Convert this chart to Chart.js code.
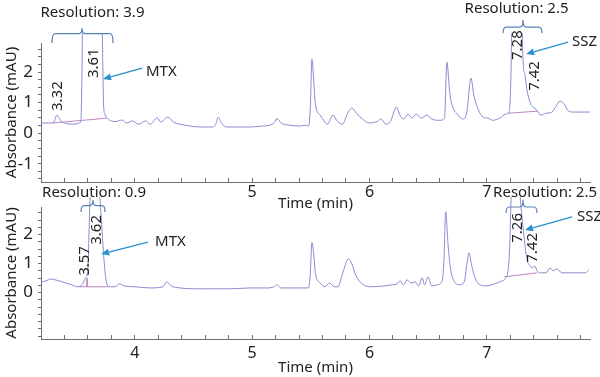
<!DOCTYPE html>
<html><head><meta charset="utf-8">
<script src="https://cdn.jsdelivr.net/npm/chart.js@4.4.0/dist/chart.umd.min.js"></script>
<style>
html,body{margin:0;padding:0;background:#fff;width:600px;height:377px;overflow:hidden;position:relative}
#c1{position:absolute;left:0;top:0}
#c2{position:absolute;left:0;top:185px}
</style></head><body>
<canvas id="c1" width="600" height="213"></canvas>
<canvas id="c2" width="600" height="192"></canvas>
<script>
// ---------- data (time in min, absorbance in mAU) ----------
const topTime = [3.20,3.26,3.31,3.335,3.37,3.41,3.48,3.52,3.54,3.548,3.555,3.61,3.72,3.727,3.733,3.745,3.77,3.80,3.84,3.89,3.93,3.98,4.03,4.09,4.13,4.19,4.22,4.28,4.33,4.43,4.56,4.66,4.69,4.71,4.74,4.78,4.98,5.08,5.15,5.19,5.21,5.25,5.32,5.41,5.45,5.48,5.495,5.51,5.525,5.54,5.58,5.62,5.64,5.69,5.72,5.77,5.81,5.85,5.89,5.94,6.00,6.05,6.07,6.10,6.14,6.18,6.23,6.26,6.29,6.33,6.36,6.40,6.44,6.49,6.53,6.60,6.64,6.66,6.685,6.71,6.75,6.77,6.80,6.83,6.865,6.89,6.93,6.97,7.01,7.05,7.11,7.16,7.19,7.205,7.215,7.28,7.30,7.309,7.326,7.343,7.369,7.394,7.41,7.437,7.46,7.505,7.556,7.59,7.625,7.66,7.69,7.74,7.86,7.88];
const topAbs = [0.33,0.33,0.36,0.59,0.39,0.32,0.29,0.32,0.40,1.6,3.6,4.5,3.6,2.2,0.95,0.62,0.47,0.40,0.38,0.43,0.33,0.40,0.29,0.40,0.29,0.50,0.36,0.53,0.36,0.26,0.20,0.20,0.29,0.52,0.32,0.20,0.20,0.23,0.26,0.35,0.48,0.32,0.26,0.23,0.26,0.23,0.75,2.42,1.7,0.92,0.59,0.36,0.29,0.59,0.42,0.29,0.62,0.82,0.65,0.46,0.33,0.36,0.39,0.46,0.29,0.39,0.85,0.59,0.46,0.62,0.49,0.62,0.49,0.59,0.46,0.42,0.49,2.32,1.3,0.85,0.62,0.52,0.46,0.69,1.80,1.24,0.75,0.52,0.49,0.42,0.49,0.62,0.69,1.7,3.7,4.8,3.7,2.39,1.9,1.41,1.01,0.85,0.82,0.69,0.59,0.65,0.69,0.88,1.05,0.95,0.75,0.69,0.69,0.69];

const bottomTime = [3.20,3.24,3.285,3.32,3.36,3.41,3.46,3.515,3.55,3.58,3.60,3.61,3.62,3.66,3.703,3.72,3.737,3.754,3.78,3.83,3.87,3.91,4.00,4.13,4.24,4.27,4.31,4.385,4.56,4.81,4.98,5.135,5.185,5.21,5.245,5.41,5.48,5.495,5.51,5.525,5.54,5.58,5.62,5.66,5.70,5.73,5.775,5.82,5.85,5.885,5.94,6.00,6.13,6.20,6.235,6.26,6.29,6.32,6.355,6.39,6.42,6.45,6.47,6.50,6.53,6.58,6.62,6.635,6.65,6.67,6.69,6.72,6.77,6.81,6.83,6.85,6.87,6.90,6.94,6.99,7.045,7.11,7.155,7.18,7.198,7.207,7.26,7.29,7.316,7.34,7.369,7.394,7.41,7.428,7.45,7.505,7.54,7.565,7.60,7.64,7.75,7.84,7.87];
const bottomAbs = [0.37,0.40,0.47,0.44,0.40,0.33,0.27,0.20,0.27,0.51,0.78,2.17,3.4,4.5,3.2,2.16,1.13,0.44,0.20,0.20,0.30,0.23,0.20,0.16,0.20,0.37,0.23,0.16,0.13,0.13,0.16,0.16,0.20,0.27,0.16,0.16,0.16,0.61,1.72,1.30,0.65,0.33,0.20,0.33,0.20,0.20,0.71,1.16,0.99,0.58,0.30,0.20,0.23,0.27,0.30,0.40,0.27,0.44,0.33,0.37,0.23,0.51,0.27,0.54,0.23,0.27,0.40,1.13,2.79,1.65,0.85,0.40,0.27,0.40,0.96,1.37,0.96,0.51,0.27,0.23,0.27,0.37,0.47,0.71,1.82,3.2,4.5,3.03,2.0,1.20,0.92,0.85,0.92,0.75,0.68,0.68,0.85,0.75,0.82,0.68,0.68,0.68,0.78];

// integration baselines (start / end points)
const topBaseMtxT = [3.294, 3.763], topBaseMtxV = [0.33, 0.49];
const topBaseSszT = [7.18, 7.43],   topBaseSszV = [0.65, 0.72];
const botBaseMtxT = [3.533, 3.77],  botBaseMtxV = [0.20, 0.20];
const botDropT    = [3.592, 3.592], botDropV    = [0.50, 0.20];
const botBaseSszT = [7.147, 7.428], botBaseSszV = [0.54, 0.68];

// axis ticks
const topXLabels = [5, 6, 7];
const bottomXLabels = [4, 5, 6, 7];
const topYLabels = [-1, 0, 1, 2];
const bottomYLabels = [0, 1, 2];

// annotation texts
const topPeakNames = ['3.32', '3.61', '7.28', '7.42'];
const bottomPeakNames = ['3.57', '3.62', '7.26', '7.42'];
const topResolution = ['Resolution: 3.9', 'Resolution: 2.5'];
const bottomResolution = ['Resolution: 0.9', 'Resolution: 2.5'];
const compounds = ['MTX', 'SSZ'];

// ---------- style ----------
const FONT = "'Noto Sans', 'DejaVu Sans', sans-serif";
const textColor = '#222222';
const axisColor = '#707070';
const traceColor = '#8a8ad0';
const baseColor = '#bf86c4';
const bracketColor = '#5a80b8';
const arrowColor = '#2a8fcb';
Chart.defaults.font.family = FONT;

// annotation anchors in data coordinates (time, absorbance)
const topAnnot = {
  brackets: [
    {from: 3.294, to: 3.814, mid: 3.55, line: 3.26, end: 2.95, notch: 3.44, text: topResolution[0], tx: 3.639, ty: 3.93},
    {from: 7.139, to: 7.471, mid: 7.309, line: 3.47, end: 3.27, notch: 3.70, text: topResolution[1], tx: 7.254, ty: 4.06}
  ],
  peaks: [
    {text: topPeakNames[0], t: 3.345, v: 1.21},
    {text: topPeakNames[1], t: 3.652, v: 2.29},
    {text: topPeakNames[2], t: 7.267, v: 2.88},
    {text: topPeakNames[3], t: 7.411, v: 1.87}
  ],
  arrows: [
    {t0: 4.061, v0: 2.13, t1: 3.729, v1: 1.77, text: compounds[0], tx: 4.095, ty: 2.0},
    {t0: 7.693, v0: 2.98, t1: 7.335, v1: 2.59, text: compounds[1], tx: 7.727, ty: 2.98}
  ]
};
const bottomAnnot = {
  brackets: [
    {from: 3.541, to: 3.746, mid: 3.643, line: 3.0, end: 2.78, notch: 3.19, text: bottomResolution[0], tx: 3.652, ty: 3.43},
    {from: 7.164, to: 7.428, mid: 7.309, line: 2.95, end: 2.74, notch: 3.19, text: bottomResolution[1], tx: 7.497, ty: 3.43}
  ],
  peaks: [
    {text: bottomPeakNames[0], t: 3.575, v: 1.09},
    {text: bottomPeakNames[1], t: 3.677, v: 2.16},
    {text: bottomPeakNames[2], t: 7.267, v: 2.23},
    {text: bottomPeakNames[3], t: 7.394, v: 1.54}
  ],
  arrows: [
    {t0: 4.112, v0: 1.74, t1: 3.712, v1: 1.33, text: compounds[0], tx: 4.172, ty: 1.74},
    {t0: 7.727, v0: 2.61, t1: 7.326, v1: 2.16, text: compounds[1], tx: 7.769, ty: 2.61}
  ]
};

// ---------- annotation plugin ----------
const annotPlugin = {
  id: 'annot',
  afterDatasetsDraw(chart, args, opts) {
    const {ctx} = chart;
    const xs = chart.scales.x, ys = chart.scales.y;
    const X = t => xs.getPixelForValue(t), Y = v => ys.getPixelForValue(v);
    ctx.save();
    ctx.strokeStyle = bracketColor; ctx.lineWidth = 1.2;
    ctx.fillStyle = textColor;
    ctx.font = '15px ' + FONT; ctx.textAlign = 'center'; ctx.textBaseline = 'middle';
    for (const b of opts.brackets) {
      const x1 = X(b.from), x2 = X(b.to), xm = X(b.mid), yl = Y(b.line), ye = Y(b.end), yn = Y(b.notch);
      ctx.beginPath();
      ctx.moveTo(x1, ye);
      ctx.quadraticCurveTo(x1, yl, x1 + 3, yl);
      ctx.lineTo(xm - 3, yl);
      ctx.quadraticCurveTo(xm, yl, xm, yn);
      ctx.quadraticCurveTo(xm, yl, xm + 3, yl);
      ctx.lineTo(x2 - 3, yl);
      ctx.quadraticCurveTo(x2, yl, x2, ye);
      ctx.stroke();
      ctx.fillText(b.text, X(b.tx), Y(b.ty));
    }
    ctx.font = '15px ' + FONT;
    for (const p of opts.peaks) {
      ctx.save();
      ctx.translate(X(p.t), Y(p.v));
      ctx.rotate(-Math.PI / 2);
      ctx.textAlign = 'center'; ctx.textBaseline = 'middle';
      ctx.fillText(p.text, 0, 0);
      ctx.restore();
    }
    ctx.font = '15px ' + FONT;
    for (const a of opts.arrows) {
      const x0 = X(a.t0), y0 = Y(a.v0), x1 = X(a.t1), y1 = Y(a.v1);
      const ang = Math.atan2(y1 - y0, x1 - x0);
      const hl = 8, hw = 3.5;
      const bx = x1 - hl * Math.cos(ang), by = y1 - hl * Math.sin(ang);
      ctx.strokeStyle = arrowColor; ctx.fillStyle = arrowColor; ctx.lineWidth = 1.3;
      ctx.beginPath(); ctx.moveTo(x0, y0); ctx.lineTo(bx, by); ctx.stroke();
      ctx.beginPath();
      ctx.moveTo(x1, y1);
      ctx.lineTo(bx + hw * Math.sin(ang), by - hw * Math.cos(ang));
      ctx.lineTo(bx - hw * Math.sin(ang), by + hw * Math.cos(ang));
      ctx.closePath(); ctx.fill();
      ctx.fillStyle = textColor; ctx.textAlign = 'left'; ctx.textBaseline = 'middle';
      ctx.fillText(a.text, X(a.tx), Y(a.ty));
    }
    ctx.restore();
  }
};

function pts(ts, vs) { return ts.map((t, i) => ({x: t, y: vs[i]})); }
function trace(ts, vs) {
  return {data: pts(ts, vs), borderColor: traceColor, borderWidth: 1, pointRadius: 0,
          cubicInterpolationMode: 'monotone', tension: 0.3, clip: {left: 0, top: 10, right: 0, bottom: 0}};
}
function base(ts, vs) {
  return {data: pts(ts, vs), borderColor: baseColor, borderWidth: 1, pointRadius: 0, tension: 0};
}
const isInt = v => Math.abs(v - Math.round(v)) < 1e-6;

function makeOptions(c) {
  return {
    responsive: false, animation: false, devicePixelRatio: 1,
    layout: {padding: {top: c.padTop, right: 10, left: 0, bottom: 0}},
    plugins: {legend: {display: false}, tooltip: {enabled: false}, annot: c.annot},
    scales: {
      x: {
        type: 'linear', min: 3.2, max: 7.88,
        border: {color: axisColor, width: 1},
        grid: {drawOnChartArea: false, drawTicks: true, tickLength: -4, color: axisColor},
        ticks: {stepSize: 0.2, includeBounds: false, autoSkip: false, maxRotation: 0, minRotation: 0,
                padding: c.xPad, color: textColor, font: {size: 16},
                callback: v => (isInt(v) && c.xLabels.includes(Math.round(v))) ? String(Math.round(v)) : ''},
        title: {display: true, text: 'Time (min)', color: textColor, font: {size: 15}, padding: {top: 0, bottom: 0}},
        afterFit: s => { s.height = c.xHeight; }
      },
      y: {
        type: 'linear', min: -1.6, max: 2.95,
        border: {color: axisColor, width: 1},
        grid: {drawOnChartArea: false, drawTicks: true, tickLength: 3, color: axisColor},
        ticks: {stepSize: 0.25, includeBounds: false, autoSkip: false, padding: 5, color: textColor, font: {size: 17},
                callback: v => (isInt(v) && c.yLabels.includes(Math.round(v))) ? String(Math.round(v)) : ''},
        title: {display: true, text: 'Absorbance (mAU)', color: textColor, font: {size: 15}, padding: {top: 3, bottom: 0}},
        afterFit: s => { s.width = 41; }
      }
    }
  };
}

new Chart(document.getElementById('c1'), {
  type: 'line',
  data: {datasets: [trace(topTime, topAbs), base(topBaseMtxT, topBaseMtxV), base(topBaseSszT, topBaseSszV)]},
  options: makeOptions({padTop: 43, xHeight: 31, xPad: 5, xLabels: topXLabels, yLabels: topYLabels, annot: topAnnot}),
  plugins: [annotPlugin]
});
new Chart(document.getElementById('c2'), {
  type: 'line',
  data: {datasets: [trace(bottomTime, bottomAbs), base(botBaseMtxT, botBaseMtxV), base(botDropT, botDropV), base(botBaseSszT, botBaseSszV)]},
  options: makeOptions({padTop: 22, xHeight: 38, xPad: 9, xLabels: bottomXLabels, yLabels: bottomYLabels, annot: bottomAnnot}),
  plugins: [annotPlugin]
});
</script></body></html>
